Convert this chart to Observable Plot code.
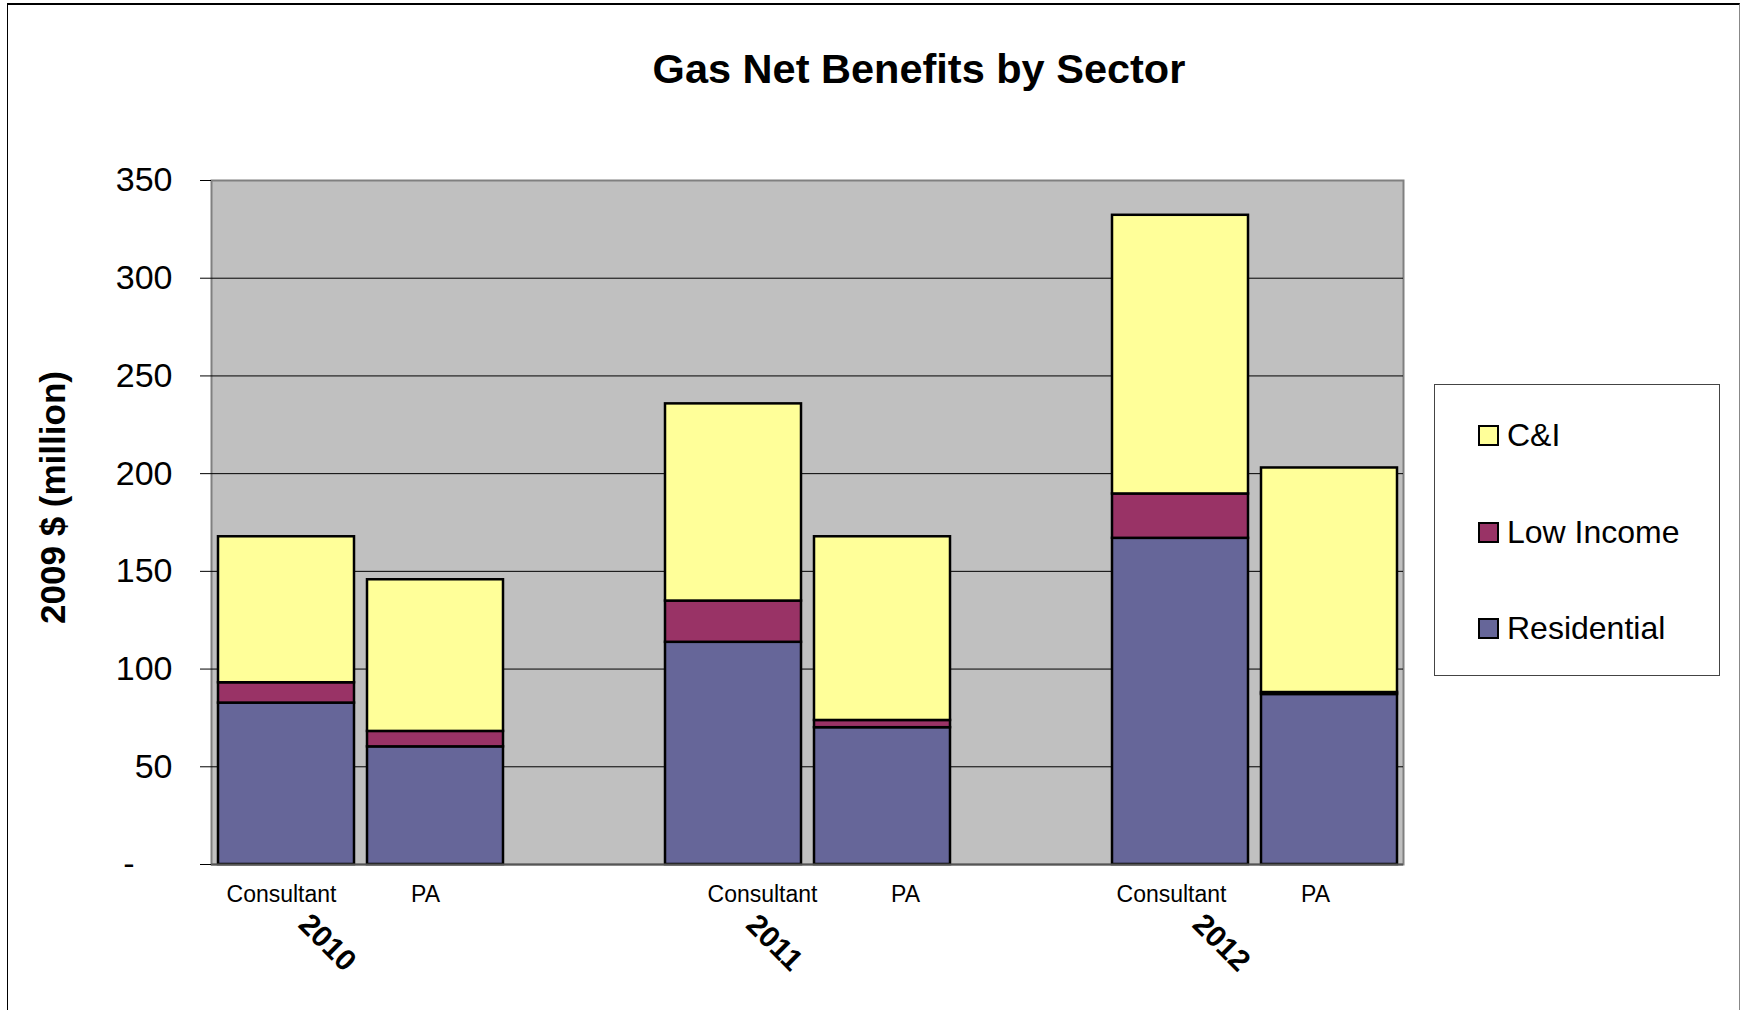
<!DOCTYPE html>
<html>
<head>
<meta charset="utf-8">
<script src="https://cdn.jsdelivr.net/npm/d3@7"></script>
<script src="https://cdn.jsdelivr.net/npm/@observablehq/plot@0.6"></script>
<style>
  body { margin: 0; background: #fff; font-family: "Liberation Sans", Arial, sans-serif; }
  #wrap { position: relative; width: 1743px; height: 1010px; overflow: hidden; background: #fff; }
  #border { position: absolute; left: 7px; top: 3px; width: 1731px; height: 1100px;
            border-top: 2px solid #000; border-left: 1px solid #000; border-right: 1px solid #888; }
  #title { position: absolute; left: 919px; top: 48px; transform: translateX(-50%);
           font-size: 41.5px; font-weight: bold; line-height: 42px; white-space: nowrap; color: #000; }
  #chart { position: absolute; left: 0; top: 0; }
  #legend { position: absolute; left: 1434px; top: 384px; width: 284px; height: 290px;
            border: 1px solid #444; background: #fff; }
  .item { position: absolute; left: 43px; height: 40px; display: flex; align-items: center;
          font-size: 32px; white-space: nowrap; color: #000; }
  .sw { width: 17px; height: 17px; border: 2px solid #000; margin-right: 8px; }
</style>
</head>
<body>
<div id="wrap">
  <div id="border"></div>
  <div id="chart"></div>
  <div id="title">Gas Net Benefits by Sector</div>
  <div id="legend"></div>
</div>
<script>
// ---- data ----
const years = ["2010", "2011", "2012"];
const sources = ["Consultant", "PA"];
const sectors = ["Residential", "Low Income", "C&I"];          // stacking order, bottom to top
const sectorColors = ["#666699", "#993366", "#FFFF99"];
// order of bars: 2010 Consultant, 2010 PA, 2011 Consultant, 2011 PA, 2012 Consultant, 2012 PA
const residential = [82.6, 60.2, 113.7, 70.0, 166.9, 87.0];
const lowIncome   = [10.4,  7.9,  21.1,  3.7,  22.7,  1.0];
const cAndI       = [74.7, 77.6, 100.9, 94.0, 142.6, 114.9];
const yTicks = [0, 50, 100, 150, 200, 250, 300, 350];
const yLabel = "2009 $ (million)";
const legendOrder = ["C&I", "Low Income", "Residential"];
// horizontal nudge (px) of each category label, as placed in the original
const labelNudge = [-5, -10, 29, 23, -9, -14];

// ---- build table ----
const seriesBySector = new Map([["Residential", residential], ["Low Income", lowIncome], ["C&I", cAndI]]);
const keys = [];
years.forEach((yr, i) => {
  sources.forEach(s => keys.push(yr + " " + s));
  if (i < years.length - 1) keys.push(yr + " gap");
});
const barKeys = keys.filter(k => !k.endsWith("gap"));
const rows = [];
years.forEach((yr, i) => sources.forEach((s, j) => {
  const k = i * sources.length + j;
  sectors.forEach(sec => rows.push({key: yr + " " + s, sector: sec, value: seriesBySector.get(sec)[k]}));
}));

const catLabelMarks = barKeys.map((k, i) =>
  Plot.text([k], {x: d => d, text: d => d.split(" ")[1], frameAnchor: "bottom",
                  dy: 37, dx: labelNudge[i], fontSize: 23}));

const chart = Plot.plot({
  width: 1743,
  height: 1010,
  marginLeft: 211,
  marginRight: 340,
  marginTop: 180,
  marginBottom: 146,
  style: {fontFamily: "'Liberation Sans', Arial, sans-serif", background: "transparent", color: "#000", overflow: "visible"},
  x: {domain: keys, paddingInner: 0.09, paddingOuter: 0.045, label: null, axis: null},
  y: {domain: [0, 350], label: null},
  color: {domain: sectors, range: sectorColors},
  marks: [
    Plot.frame({fill: "#c0c0c0", stroke: "#808080", strokeWidth: 2}),
    Plot.ruleY(yTicks.filter(d => d > 0 && d < 350), {stroke: "#000", strokeWidth: 1}),
    Plot.barY(rows, {x: "key", y: "value", fill: "sector", order: sectors, stroke: "#000", strokeWidth: 2.5}),
    Plot.ruleY([0], {stroke: "#555", strokeWidth: 2}),
    Plot.axisY({ticks: yTicks, tickSize: 11, tickPadding: 28, fontSize: 34, label: null,
                tickFormat: d => d === 0 ? "-\u2007\u2007" : String(d)}),
    ...catLabelMarks,
    Plot.text(years, {x: d => d + " Consultant", text: d => d, frameAnchor: "bottom",
                      dx: 34, dy: 85, rotate: 45, fontSize: 30, fontWeight: "bold"}),
    Plot.text([yLabel], {text: d => d, frameAnchor: "left", textAnchor: "middle", dx: -158, dy: -25, rotate: -90,
                         fontSize: 35, fontWeight: "bold"})
  ]
});
document.getElementById("chart").appendChild(chart);

// ---- legend ----
const legend = document.getElementById("legend");
const tops = [30, 127, 223];
legendOrder.forEach((name, i) => {
  const item = document.createElement("div");
  item.className = "item";
  item.style.top = tops[i] + "px";
  const sw = document.createElement("div");
  sw.className = "sw";
  sw.style.background = sectorColors[sectors.indexOf(name)];
  const label = document.createElement("span");
  label.textContent = name;
  item.appendChild(sw);
  item.appendChild(label);
  legend.appendChild(item);
});
</script>
</body>
</html>
